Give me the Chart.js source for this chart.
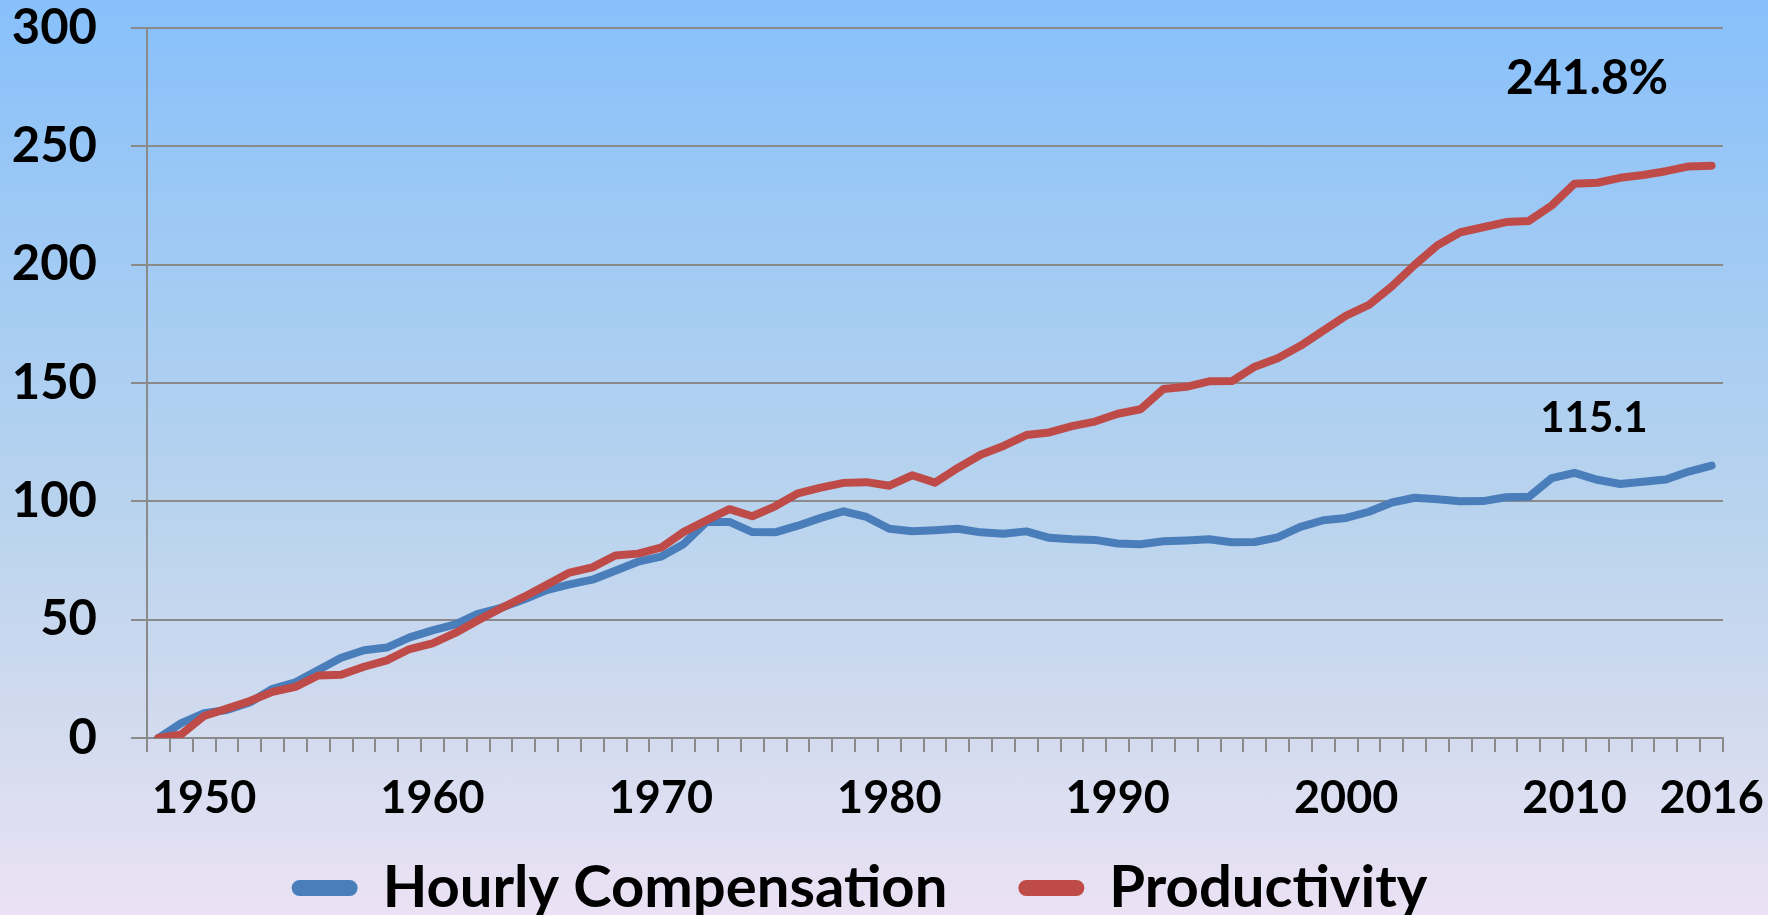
<!DOCTYPE html>
<html>
<head>
<meta charset="utf-8">
<script src="https://cdn.jsdelivr.net/npm/chart.js@4.4.1/dist/chart.umd.min.js"></script>
<style>
  html, body { margin: 0; padding: 0; }
  body {
    width: 1768px; height: 915px; overflow: hidden;
    background: linear-gradient(to bottom, #87c0fb 0%, #a3cbf3 30%, #b8d3ee 55%, #d3dbef 80%, #ebe2f4 100%);
  }
  #wrap { position: relative; width: 1768px; height: 915px; }
</style>
</head>
<body>
<div id="wrap"><canvas id="chart" width="1768" height="915"></canvas></div>
<script>
// years 1948..2016
const years = [];
for (let y = 1948; y <= 2016; y++) years.push(String(y));

// cumulative % change since 1948
const hourlyCompensation = [
  0.0, 6.3, 10.5, 11.8, 15.0, 20.8, 23.5, 28.7, 33.9, 37.1,
  38.2, 42.5, 45.5, 48.0, 52.5, 55.0, 58.5, 62.5, 64.9, 66.9,
  70.7, 74.5, 76.6, 82.0, 91.3, 91.3, 87.0, 86.9, 89.7, 93.0,
  95.8, 93.4, 88.4, 87.4, 87.8, 88.4, 86.9, 86.3, 87.3, 84.6,
  84.0, 83.7, 82.2, 81.9, 83.1, 83.5, 84.0, 82.7, 82.8, 84.8,
  89.2, 92.0, 93.0, 95.6, 99.5, 101.5, 100.9, 100.0, 100.1, 101.7,
  101.9, 109.8, 112.0, 109.1, 107.3, 108.3, 109.2, 112.6, 115.1
];
const productivity = [
  0.0, 1.5, 9.3, 12.4, 15.6, 19.5, 21.6, 26.4, 26.7, 30.1,
  32.8, 37.6, 40.0, 44.4, 49.8, 54.8, 59.6, 64.7, 69.9, 72.1,
  77.1, 77.9, 80.4, 87.1, 92.0, 96.7, 93.7, 97.9, 103.4, 105.8,
  107.8, 108.1, 106.6, 111.0, 107.9, 114.1, 119.7, 123.4, 128.0, 129.1,
  131.8, 133.7, 137.0, 138.9, 147.5, 148.4, 150.7, 150.8, 156.9, 160.5,
  165.7, 172.1, 178.5, 183.0, 190.8, 199.9, 208.2, 213.7, 215.8, 218.0,
  218.5, 225.0, 234.2, 234.6, 236.7, 237.9, 239.5, 241.5, 241.8
];
const shownYears = ['1950', '1960', '1970', '1980', '1990', '2000', '2010', '2016'];
const endLabels = [
  { text: '241.8%', at: 62.55, value: 278.5, size: 48 },
  { text: '115.1', at: 62.85, value: 135, size: 42 }
];

const FONT = "Lato, 'Open Sans', sans-serif";
const GRID = '#8a8a8a';

const endLabelPlugin = {
  id: 'endLabels',
  afterDatasetsDraw(chart) {
    const { ctx, scales: { x, y } } = chart;
    ctx.save();
    ctx.fillStyle = '#000';
    ctx.textAlign = 'center';
    ctx.textBaseline = 'middle';
    endLabels.forEach(l => {
      ctx.font = `bold ${l.size}px ${FONT}`;
      ctx.fillText(l.text, x.getPixelForValue(l.at), y.getPixelForValue(l.value));
    });
    ctx.restore();
  }
};

// legend items sit at top + padding; stretch the box upward so the wide
// item padding doesn't push the text off the bottom
const legendNudge = {
  id: 'legendNudge',
  afterLayout(chart) {
    if (chart.legend) chart.legend.top -= 54;
  }
};

new Chart(document.getElementById('chart'), {
  type: 'line',
  data: {
    labels: years,
    datasets: [
      {
        label: 'Hourly Compensation',
        data: hourlyCompensation,
        borderColor: '#4a7ebb',
        backgroundColor: '#4a7ebb',
        borderWidth: 8,
        pointRadius: 0,
        borderJoinStyle: 'round',
        borderCapStyle: 'round',
        order: 1
      },
      {
        label: 'Productivity',
        data: productivity,
        borderColor: '#be4b48',
        backgroundColor: '#be4b48',
        borderWidth: 8,
        pointRadius: 0,
        borderJoinStyle: 'round',
        borderCapStyle: 'round',
        order: 0
      }
    ]
  },
  options: {
    responsive: false,
    devicePixelRatio: 1,
    animation: false,
    layout: { padding: { left: 0, right: 45, top: 28, bottom: 0 } },
    plugins: {
      tooltip: { enabled: false },
      legend: {
        position: 'bottom',
        maxHeight: 77,
        labels: {
          sort: (a, b) => a.datasetIndex - b.datasetIndex,
          color: '#000',
          font: { family: FONT, size: 58, weight: 'bold' },
          boxWidth: 58,
          boxHeight: 8,
          useBorderRadius: true,
          borderRadius: 4,
          padding: 75
        }
      }
    },
    scales: {
      x: {
        type: 'category',
        offset: true,
        grid: {
          offset: true,
          drawOnChartArea: false,
          drawTicks: true,
          tickLength: 14,
          color: GRID,
          lineWidth: 2
        },
        border: { color: GRID, width: 2 },
        ticks: {
          autoSkip: false,
          maxRotation: 0,
          color: '#000',
          padding: 19,
          font: { family: FONT, size: 45, weight: 'bold' },
          callback(value) {
            const lab = this.getLabelForValue(value);
            return shownYears.includes(lab) ? lab : '';
          }
        },
        afterFit(scale) {
          scale.height = 100;
          scale.paddingLeft = 0;
          scale.paddingRight = 0;
        }
      },
      y: {
        min: 0,
        max: 300,
        grid: { color: GRID, lineWidth: 2, tickLength: 16 },
        border: { color: GRID, width: 2 },
        ticks: {
          stepSize: 50,
          color: '#000',
          padding: 34,
          font: { family: FONT, size: 49, weight: 'bold' }
        },
        afterFit(scale) {
          scale.width = 147;
          scale.paddingTop = 0;
          scale.paddingBottom = 0;
        }
      }
    }
  },
  plugins: [endLabelPlugin, legendNudge]
});
</script>
</body>
</html>
